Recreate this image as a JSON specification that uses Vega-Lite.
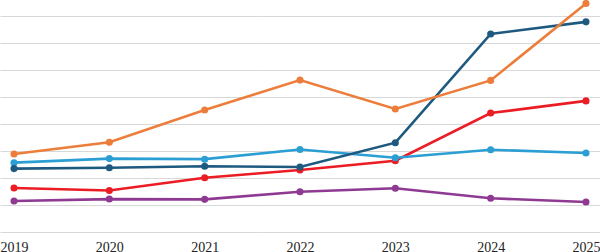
{
  "$schema": "https://vega.github.io/schema/vega-lite/v6.json",
  "width": 600,
  "height": 232,
  "autosize": {"type": "none"},
  "padding": {"left": 0, "top": 0, "right": 0, "bottom": 20},
  "background": "white",
  "config": {"view": {"stroke": null}, "font": "Liberation Serif"},
  "data": {"values": [
    {"year": "2019", "s": "purple", "v": 11.5},
    {"year": "2020", "s": "purple", "v": 12.2},
    {"year": "2021", "s": "purple", "v": 12.1},
    {"year": "2022", "s": "purple", "v": 14.9},
    {"year": "2023", "s": "purple", "v": 16.2},
    {"year": "2024", "s": "purple", "v": 12.5},
    {"year": "2025", "s": "purple", "v": 11.1},
    {"year": "2019", "s": "red", "v": 16.3},
    {"year": "2020", "s": "red", "v": 15.4},
    {"year": "2021", "s": "red", "v": 20.1},
    {"year": "2022", "s": "red", "v": 23.0},
    {"year": "2023", "s": "red", "v": 26.4},
    {"year": "2024", "s": "red", "v": 44.1},
    {"year": "2025", "s": "red", "v": 48.6},
    {"year": "2019", "s": "lightblue", "v": 25.7},
    {"year": "2020", "s": "lightblue", "v": 27.2},
    {"year": "2021", "s": "lightblue", "v": 27.0},
    {"year": "2022", "s": "lightblue", "v": 30.6},
    {"year": "2023", "s": "lightblue", "v": 27.5},
    {"year": "2024", "s": "lightblue", "v": 30.5},
    {"year": "2025", "s": "lightblue", "v": 29.3},
    {"year": "2019", "s": "darkblue", "v": 23.5},
    {"year": "2020", "s": "darkblue", "v": 23.8},
    {"year": "2021", "s": "darkblue", "v": 24.4},
    {"year": "2022", "s": "darkblue", "v": 24.1},
    {"year": "2023", "s": "darkblue", "v": 33.1},
    {"year": "2024", "s": "darkblue", "v": 73.4},
    {"year": "2025", "s": "darkblue", "v": 77.9},
    {"year": "2019", "s": "orange", "v": 28.9},
    {"year": "2020", "s": "orange", "v": 33.3},
    {"year": "2021", "s": "orange", "v": 45.2},
    {"year": "2022", "s": "orange", "v": 56.3},
    {"year": "2023", "s": "orange", "v": 45.6},
    {"year": "2024", "s": "orange", "v": 56.2},
    {"year": "2025", "s": "orange", "v": 84.7}
  ]},
  "encoding": {
    "x": {"field": "year", "type": "ordinal", "scale": {"type": "point", "padding": 0.147},
      "axis": {"title": null, "labelAngle": 0, "ticks": false, "domain": false, "grid": false, "labelFontSize": 14, "labelColor": "#222", "labelPadding": 8, "labelFont": "Liberation Serif", "labelOverlap": false, "labelBound": false}},
    "y": {"field": "v", "type": "quantitative", "scale": {"domain": [0, 86], "nice": false, "zero": true},
      "axis": {"title": null, "labels": false, "ticks": false, "domain": false, "values": [0, 10, 20, 30, 40, 50, 60, 70, 80], "gridColor": "#d8d8d8", "gridWidth": 1}},
    "color": {"field": "s", "type": "nominal", "legend": null,
      "scale": {"domain": ["purple", "red", "lightblue", "darkblue", "orange"], "range": ["#8e3a93", "#ec1c24", "#2b9fd3", "#1e5a80", "#ec7d3a"]}}
  },
  "layer": [
    {"mark": {"type": "line", "strokeWidth": 2.6}},
    {"mark": {"type": "point", "filled": true, "size": 50, "opacity": 1}}
  ]
}
